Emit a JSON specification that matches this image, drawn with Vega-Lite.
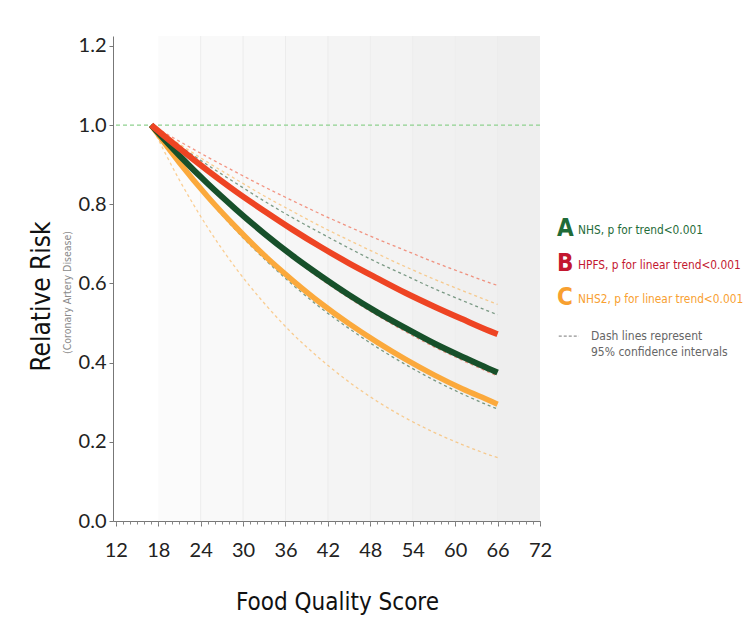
{
  "$schema": "https://vega.github.io/schema/vega-lite/v6.json",
  "background": "#ffffff",
  "padding": {"left": 28, "top": 35, "right": 0, "bottom": 5},
  "bounds": "flush",
  "spacing": 17,
  "config": {"view": {"stroke": null}},
  "datasets": {
    "curves": [
      {"score": 17, "study": "NHS", "est": 1, "lo": 1, "hi": 1},
      {"score": 21, "study": "NHS", "est": 0.923, "lo": 0.902, "hi": 0.948},
      {"score": 25, "study": "NHS", "est": 0.852, "lo": 0.814, "hi": 0.899},
      {"score": 29, "study": "NHS", "est": 0.787, "lo": 0.734, "hi": 0.853},
      {"score": 33, "study": "NHS", "est": 0.726, "lo": 0.662, "hi": 0.808},
      {"score": 37, "study": "NHS", "est": 0.670, "lo": 0.597, "hi": 0.766},
      {"score": 41, "study": "NHS", "est": 0.619, "lo": 0.538, "hi": 0.727},
      {"score": 45, "study": "NHS", "est": 0.571, "lo": 0.486, "hi": 0.689},
      {"score": 49, "study": "NHS", "est": 0.527, "lo": 0.438, "hi": 0.653},
      {"score": 53, "study": "NHS", "est": 0.487, "lo": 0.395, "hi": 0.620},
      {"score": 57, "study": "NHS", "est": 0.449, "lo": 0.356, "hi": 0.587},
      {"score": 61, "study": "NHS", "est": 0.415, "lo": 0.321, "hi": 0.557},
      {"score": 65, "study": "NHS", "est": 0.383, "lo": 0.290, "hi": 0.528},
      {"score": 66, "study": "NHS", "est": 0.375, "lo": 0.283, "hi": 0.521},
      {"score": 17, "study": "HPFS", "est": 1, "lo": 1, "hi": 1},
      {"score": 21, "study": "HPFS", "est": 0.941, "lo": 0.921, "hi": 0.959},
      {"score": 25, "study": "HPFS", "est": 0.885, "lo": 0.849, "hi": 0.919},
      {"score": 29, "study": "HPFS", "est": 0.832, "lo": 0.782, "hi": 0.881},
      {"score": 33, "study": "HPFS", "est": 0.783, "lo": 0.720, "hi": 0.844},
      {"score": 37, "study": "HPFS", "est": 0.736, "lo": 0.664, "hi": 0.809},
      {"score": 41, "study": "HPFS", "est": 0.692, "lo": 0.611, "hi": 0.775},
      {"score": 45, "study": "HPFS", "est": 0.651, "lo": 0.563, "hi": 0.743},
      {"score": 49, "study": "HPFS", "est": 0.613, "lo": 0.519, "hi": 0.712},
      {"score": 53, "study": "HPFS", "est": 0.576, "lo": 0.478, "hi": 0.683},
      {"score": 57, "study": "HPFS", "est": 0.542, "lo": 0.440, "hi": 0.654},
      {"score": 61, "study": "HPFS", "est": 0.510, "lo": 0.406, "hi": 0.627},
      {"score": 65, "study": "HPFS", "est": 0.479, "lo": 0.374, "hi": 0.601},
      {"score": 66, "study": "HPFS", "est": 0.472, "lo": 0.366, "hi": 0.595},
      {"score": 17, "study": "NHS2", "est": 1, "lo": 1, "hi": 1},
      {"score": 21, "study": "NHS2", "est": 0.905, "lo": 0.861, "hi": 0.952},
      {"score": 25, "study": "NHS2", "est": 0.819, "lo": 0.741, "hi": 0.906},
      {"score": 29, "study": "NHS2", "est": 0.742, "lo": 0.638, "hi": 0.863},
      {"score": 33, "study": "NHS2", "est": 0.671, "lo": 0.550, "hi": 0.821},
      {"score": 37, "study": "NHS2", "est": 0.608, "lo": 0.473, "hi": 0.782},
      {"score": 41, "study": "NHS2", "est": 0.550, "lo": 0.408, "hi": 0.744},
      {"score": 45, "study": "NHS2", "est": 0.498, "lo": 0.351, "hi": 0.709},
      {"score": 49, "study": "NHS2", "est": 0.451, "lo": 0.302, "hi": 0.675},
      {"score": 53, "study": "NHS2", "est": 0.408, "lo": 0.260, "hi": 0.642},
      {"score": 57, "study": "NHS2", "est": 0.369, "lo": 0.224, "hi": 0.611},
      {"score": 61, "study": "NHS2", "est": 0.334, "lo": 0.193, "hi": 0.582},
      {"score": 65, "study": "NHS2", "est": 0.303, "lo": 0.166, "hi": 0.554},
      {"score": 66, "study": "NHS2", "est": 0.295, "lo": 0.160, "hi": 0.547}
    ],
    "bands": [
      {"start": 18, "end": 24, "shade": 0},
      {"start": 24, "end": 30, "shade": 1},
      {"start": 30, "end": 36, "shade": 2},
      {"start": 36, "end": 42, "shade": 3},
      {"start": 42, "end": 48, "shade": 4},
      {"start": 48, "end": 54, "shade": 5},
      {"start": 54, "end": 60, "shade": 6},
      {"start": 60, "end": 66, "shade": 7},
      {"start": 66, "end": 72, "shade": 8}
    ],
    "legend": [
      {"row": 1, "letter": "A", "label": "NHS, p for trend<0.001", "study": "NHS"},
      {"row": 2, "letter": "B", "label": "HPFS, p for linear trend<0.001", "study": "HPFS"},
      {"row": 3, "letter": "C", "label": "NHS2, p for linear trend<0.001", "study": "NHS2"}
    ],
    "note": [
      {"row": 4.1, "text": "Dash lines represent\n95% confidence intervals", "from": 0.01, "to": 0.126}
    ]
  },
  "hconcat": [
    {
      "width": 427,
      "height": 485,
      "resolve": {"axis": {"x": "independent", "y": "independent"}},
      "layer": [
        {
          "data": {"name": "bands"},
          "mark": {"type": "rect"},
          "encoding": {
            "x": {"field": "start", "type": "quantitative",
              "scale": {"domain": [11.6, 72], "nice": false, "zero": false},
              "axis": {"orient": "bottom", "values": [12, 18, 24, 30, 36, 42, 48, 54, 60, 66, 72], "title": "Food Quality Score",
                "grid": false, "domainColor": "#777777", "tickColor": "#777777", "tickSize": 5, "labelPadding": 14,
                "labelFont": "Lato", "labelFontSize": 20, "labelColor": "#222222", "labelFlush": false,
                "titleFont": "DejaVu Sans Condensed, sans-serif", "titleFontSize": 24, "titleFontWeight": "normal",
                "titleColor": "#111111", "titlePadding": 30, "titleX": 224}},
            "x2": {"field": "end"},
            "y": {"datum": 0, "type": "quantitative",
              "scale": {"domain": [0, 1.225], "nice": false, "zero": false},
              "axis": {"orient": "left", "values": [0, 0.2, 0.4, 0.6, 0.8, 1.0, 1.2], "format": ".1f",
                "title": "(Coronary Artery Disease)", "grid": false, "titleY": 256,
                "domainColor": "#777777", "tickColor": "#777777", "tickSize": 4, "labelPadding": 3,
                "labelFont": "Lato", "labelFontSize": 20, "labelColor": "#222222", "labelFlush": false,
                "titleFont": "DejaVu Sans Condensed, sans-serif", "titleFontSize": 10.5, "titleFontWeight": "normal",
                "titleColor": "#8a8a8a", "titlePadding": 6}},
            "y2": {"datum": 1.225},
            "fill": {"field": "shade", "type": "quantitative", "scale": {"range": ["#fbfbfb", "#eeeeee"]}, "legend": null}
          }
        },
        {
          "data": {"name": "bands"},
          "transform": [{"filter": "datum.start > 18"}],
          "mark": {"type": "rule", "color": "#ececec", "strokeWidth": 1},
          "encoding": {
            "x": {"field": "start", "type": "quantitative",
              "scale": {"domain": [11.6, 72], "nice": false, "zero": false},
              "axis": {"orient": "bottom", "values": [12,13,14,15,16,17,18,19,20,21,22,23,24,25,26,27,28,29,30,31,32,33,34,35,36,37,38,39,40,41,42,43,44,45,46,47,48,49,50,51,52,53,54,55,56,57,58,59,60,61,62,63,64,65,66,67,68,69,70,71,72],
                "labels": false, "domain": false, "grid": false, "title": null, "tickSize": 3, "tickColor": "#888888"}}
          }
        },
        {
          "data": {"values": [{"ref": 1}]},
          "mark": {"type": "rule", "color": "#8fd18f", "strokeWidth": 1.2, "strokeDash": [4, 3]},
          "encoding": {
            "y": {"field": "ref", "type": "quantitative",
              "scale": {"domain": [0, 1.225], "nice": false, "zero": false},
              "axis": {"orient": "left", "labels": false, "ticks": false, "domain": false, "grid": false,
                "title": "Relative Risk", "offset": 59, "titlePadding": 0, "titleY": 260,
                "titleFont": "DejaVu Sans Condensed, sans-serif", "titleFontSize": 26, "titleFontWeight": "normal",
                "titleColor": "#111111"}}
          }
        },
        {
          "data": {"name": "curves"},
          "mark": {"type": "line", "strokeWidth": 1.3, "strokeDash": [3, 3], "opacity": 0.55, "interpolate": "monotone"},
          "encoding": {
            "x": {"field": "score", "type": "quantitative", "scale": {"domain": [11.6, 72], "nice": false, "zero": false}, "axis": null},
            "y": {"field": "hi", "type": "quantitative", "scale": {"domain": [0, 1.225], "nice": false, "zero": false}, "axis": null},
            "stroke": {"field": "study", "type": "nominal", "scale": {"domain": ["NHS", "HPFS", "NHS2"], "range": ["#17502a", "#ee4423", "#fba93c"]}, "legend": null}
          }
        },
        {
          "data": {"name": "curves"},
          "mark": {"type": "line", "strokeWidth": 1.3, "strokeDash": [3, 3], "opacity": 0.55, "interpolate": "monotone"},
          "encoding": {
            "x": {"field": "score", "type": "quantitative", "scale": {"domain": [11.6, 72], "nice": false, "zero": false}, "axis": null},
            "y": {"field": "lo", "type": "quantitative", "scale": {"domain": [0, 1.225], "nice": false, "zero": false}, "axis": null},
            "stroke": {"field": "study", "type": "nominal", "legend": null}
          }
        },
        {
          "data": {"name": "curves"},
          "transform": [{"filter": "datum.study === 'NHS2'"}],
          "mark": {"type": "line", "strokeWidth": 5.5, "interpolate": "monotone"},
          "encoding": {
            "x": {"field": "score", "type": "quantitative", "scale": {"domain": [11.6, 72], "nice": false, "zero": false}, "axis": null},
            "y": {"field": "est", "type": "quantitative", "scale": {"domain": [0, 1.225], "nice": false, "zero": false}, "axis": null},
            "stroke": {"field": "study", "type": "nominal", "legend": null}
          }
        },
        {
          "data": {"name": "curves"},
          "transform": [{"filter": "datum.study === 'NHS'"}],
          "mark": {"type": "line", "strokeWidth": 6, "interpolate": "monotone"},
          "encoding": {
            "x": {"field": "score", "type": "quantitative", "scale": {"domain": [11.6, 72], "nice": false, "zero": false}, "axis": null},
            "y": {"field": "est", "type": "quantitative", "scale": {"domain": [0, 1.225], "nice": false, "zero": false}, "axis": null},
            "stroke": {"field": "study", "type": "nominal", "legend": null}
          }
        },
        {
          "data": {"name": "curves"},
          "transform": [{"filter": "datum.study === 'HPFS'"}],
          "mark": {"type": "line", "strokeWidth": 6, "interpolate": "monotone"},
          "encoding": {
            "x": {"field": "score", "type": "quantitative", "scale": {"domain": [11.6, 72], "nice": false, "zero": false}, "axis": null},
            "y": {"field": "est", "type": "quantitative", "scale": {"domain": [0, 1.225], "nice": false, "zero": false}, "axis": null},
            "stroke": {"field": "study", "type": "nominal", "legend": null}
          }
        }
      ]
    },
    {
      "width": 174,
      "height": 485,
      "layer": [
        {
          "data": {"name": "legend"},
          "mark": {"type": "text", "align": "left", "baseline": "middle", "font": "DejaVu Sans Condensed, sans-serif", "fontSize": 24, "fontWeight": "bold"},
          "encoding": {
            "x": {"datum": 0, "type": "quantitative", "scale": {"domain": [0, 1], "nice": false}, "axis": null},
            "y": {"field": "row", "type": "quantitative", "scale": {"domain": [-4.6, 9.46], "reverse": true, "nice": false, "zero": false}, "axis": null},
            "text": {"field": "letter"},
            "fill": {"field": "study", "type": "nominal", "scale": {"domain": ["NHS", "HPFS", "NHS2"], "range": ["#1f6b38", "#c3172f", "#f8a030"]}, "legend": null}
          }
        },
        {
          "data": {"name": "legend"},
          "mark": {"type": "text", "align": "left", "baseline": "middle", "dx": 21, "dy": 1, "font": "DejaVu Sans Condensed, sans-serif", "fontSize": 11.8},
          "encoding": {
            "x": {"datum": 0, "type": "quantitative", "scale": {"domain": [0, 1], "nice": false}, "axis": null},
            "y": {"field": "row", "type": "quantitative", "scale": {"domain": [-4.6, 9.46], "reverse": true, "nice": false, "zero": false}, "axis": null},
            "text": {"field": "label"},
            "fill": {"field": "study", "type": "nominal", "legend": null}
          }
        },
        {
          "data": {"name": "note"},
          "mark": {"type": "text", "align": "left", "baseline": "middle", "dx": 34, "lineBreak": "\n", "lineHeight": 16, "font": "DejaVu Sans Condensed, sans-serif", "fontSize": 12, "color": "#666666"},
          "encoding": {
            "x": {"datum": 0, "type": "quantitative", "scale": {"domain": [0, 1], "nice": false}, "axis": null},
            "y": {"field": "row", "type": "quantitative", "scale": {"domain": [-4.6, 9.46], "reverse": true, "nice": false, "zero": false}, "axis": null},
            "text": {"field": "text"}
          }
        },
        {
          "data": {"name": "note"},
          "mark": {"type": "rule", "color": "#777777", "strokeWidth": 1, "strokeDash": [3, 2]},
          "encoding": {
            "x": {"field": "from", "type": "quantitative", "scale": {"domain": [0, 0.916], "nice": false}, "axis": null},
            "x2": {"field": "to"},
            "y": {"field": "row", "type": "quantitative", "scale": {"domain": [-4.6, 9.46], "reverse": true, "nice": false, "zero": false}, "axis": null}
          }
        }
      ]
    }
  ]
}
